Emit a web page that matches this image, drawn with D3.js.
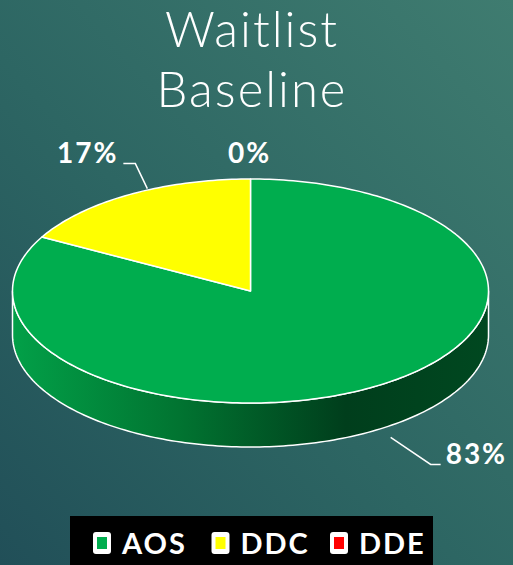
<!DOCTYPE html>
<html>
<head>
<meta charset="utf-8">
<script src="https://cdn.jsdelivr.net/npm/d3@7"></script>
<style>
  html, body { margin: 0; padding: 0; }
  body { width: 513px; height: 565px; overflow: hidden; }
</style>
</head>
<body>
<div id="result"></div>
<script>
// chart data
const categories = ['AOS', 'DDC', 'DDE'];
const values = [83, 17, 0];
const labels = ['83%', '17%', '0%'];
const colors = ['#00ad4e', '#ffff00', '#ff0000'];
const title_lines = ['Waitlist', 'Baseline'];

const W = 513, H = 565;
const cx = 250.5, cy = 291, rx = 238, ry = 112, depth = 44;
const FONT = 'Lato, "Open Sans", sans-serif';

const svg = d3.select('#result').append('svg')
  .attr('width', W)
  .attr('height', H);

const defs = svg.append('defs');

var bg = defs.append('linearGradient').attr('id', 'bg')
  .attr('x1', '100%').attr('y1', '0%').attr('x2', '0%').attr('y2', '100%');
bg.append('stop').attr('offset', '0%').attr('stop-color', '#3f7c70');
bg.append('stop').attr('offset', '55%').attr('stop-color', '#2d6663');
bg.append('stop').attr('offset', '100%').attr('stop-color', '#214f58');

var side = defs.append('linearGradient').attr('id', 'side')
  .attr('gradientUnits', 'userSpaceOnUse')
  .attr('x1', cx - rx).attr('y1', 0).attr('x2', cx + rx).attr('y2', 0);
side.append('stop').attr('offset', '0%').attr('stop-color', '#02a048');
side.append('stop').attr('offset', '35%').attr('stop-color', '#017431');
side.append('stop').attr('offset', '70%').attr('stop-color', '#003e1c');
side.append('stop').attr('offset', '100%').attr('stop-color', '#004820');

svg.append('rect').attr('width', W).attr('height', H).attr('fill', 'url(#bg)');

// title
svg.append('text')
  .attr('text-anchor', 'middle')
  .attr('fill', '#ffffff')
  .style('font-family', FONT)
  .style('font-weight', 300)
  .style('font-size', '49px')
  .style('letter-spacing', '2px')
  .selectAll('tspan')
  .data(title_lines)
  .enter().append('tspan')
  .attr('x', 252)
  .attr('y', function(d, i) { return 47 + i * 60; })
  .text(function(d) { return d; });

// projected pie
const pie = d3.pie().sort(null).value(function(d) { return d; });
const arcs = pie(values);

function pt(a, dy) {
  return [cx + rx * Math.sin(a), cy - ry * Math.cos(a) + (dy || 0)];
}

function arcPoints(a0, a1, dy) {
  var pts = [];
  var n = Math.max(2, Math.ceil(Math.abs(a1 - a0) / 0.02));
  for (var i = 0; i <= n; i++) {
    pts.push(pt(a0 + (a1 - a0) * i / n, dy));
  }
  return pts;
}

const line = d3.line();
const g = svg.append('g');

// front walls
arcs.forEach(function(d, i) {
  var a0 = Math.max(d.startAngle, Math.PI / 2);
  var a1 = Math.min(d.endAngle, Math.PI * 3 / 2);
  if (a1 <= a0) return;
  var pts = arcPoints(a0, a1, 0).concat(arcPoints(a1, a0, depth));
  g.append('path')
    .attr('d', line(pts) + 'Z')
    .attr('fill', i === 0 ? 'url(#side)' : d3.color(colors[i]).darker(1.2))
    .attr('stroke', '#ffffff')
    .attr('stroke-width', 1.5)
    .attr('stroke-linejoin', 'round');
});

// top faces
arcs.forEach(function(d, i) {
  if (d.endAngle - d.startAngle <= 0) return;
  var pts = [[cx, cy]].concat(arcPoints(d.startAngle, d.endAngle, 0));
  g.append('path')
    .attr('d', line(pts) + 'Z')
    .attr('fill', colors[i])
    .attr('stroke', '#ffffff')
    .attr('stroke-width', 1.5)
    .attr('stroke-linejoin', 'round');
});

// data labels with leader lines
const label_layout = [
  { leader: [[19, 6], [59, 33], [69, 33]], tx: 74, ty: 33, anchor: 'start' },
  { leader: [[18, -6], [6, -31], [-6, -31]], tx: -11, ty: -32, anchor: 'end' },
  { leader: null, tx: -1, ty: -16, anchor: 'middle' }
];

arcs.forEach(function(d, i) {
  var mid = (d.startAngle + d.endAngle) / 2;
  var front = Math.cos(mid) < 0;
  var p = pt(mid, front ? depth : 0);
  var lay = label_layout[i];
  if (lay.leader) {
    var pts = lay.leader.map(function(o) { return [p[0] + o[0], p[1] + o[1]]; });
    svg.append('path')
      .attr('d', line(pts))
      .attr('fill', 'none')
      .attr('stroke', '#ffffff')
      .attr('stroke-width', 1.5);
  }
  svg.append('text')
    .attr('x', p[0] + lay.tx)
    .attr('y', p[1] + lay.ty)
    .attr('text-anchor', lay.anchor)
    .attr('fill', '#ffffff')
    .style('font-family', FONT)
    .style('font-weight', 700)
    .style('font-size', '28px')
    .style('letter-spacing', '2px')
    .text(labels[i]);
});

// legend
const legend = svg.append('g');
legend.append('rect')
  .attr('x', 70).attr('y', 516)
  .attr('width', 363).attr('height', 49)
  .attr('fill', '#000000');

const legend_x = d3.scalePoint().domain(categories).range([93, 330]);

const item = legend.selectAll('g.item')
  .data(categories)
  .enter().append('g')
  .attr('class', 'item')
  .attr('transform', function(d) { return 'translate(' + legend_x(d) + ',532)'; });

item.append('rect')
  .attr('width', 18).attr('height', 22).attr('rx', 3)
  .attr('fill', '#ffffff');
item.append('rect')
  .attr('x', 4).attr('y', 5)
  .attr('width', 10).attr('height', 12)
  .attr('fill', function(d, i) { return colors[i]; });
item.append('text')
  .attr('x', 29).attr('y', 22)
  .attr('fill', '#ffffff')
  .style('font-family', FONT)
  .style('font-weight', 700)
  .style('font-size', '29px')
  .style('letter-spacing', '2px')
  .text(function(d) { return d; });
</script>
</body>
</html>
